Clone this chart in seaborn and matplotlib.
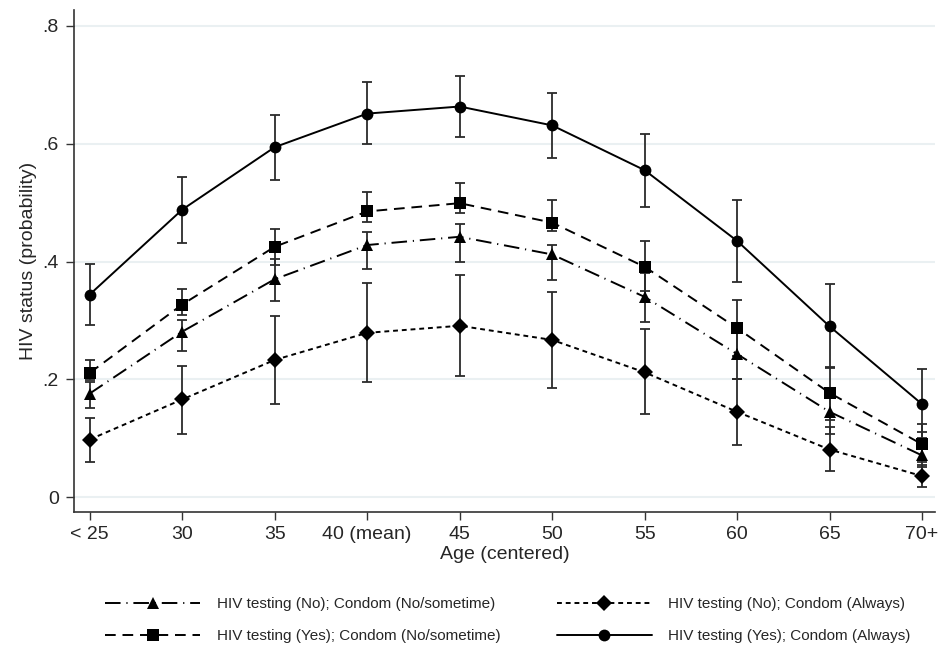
import numpy as np
import pandas as pd
import matplotlib
matplotlib.use("Agg")
import matplotlib.pyplot as plt
import seaborn as sns

# age groups on the x axis
ages = ["< 25", "30", "35", "40 (mean)", "45", "50", "55", "60", "65", "70+"]

# predicted probabilities and 95% CI
tri_est = [0.176, 0.281, 0.370, 0.428, 0.442, 0.412, 0.340, 0.243, 0.145, 0.071]
tri_lo  = [0.151, 0.248, 0.333, 0.387, 0.400, 0.368, 0.298, 0.200, 0.108, 0.051]
tri_hi  = [0.196, 0.300, 0.405, 0.450, 0.463, 0.428, 0.380, 0.286, 0.185, 0.111]

sq_est = [0.211, 0.327, 0.425, 0.485, 0.499, 0.466, 0.391, 0.287, 0.177, 0.090]
sq_lo  = [0.199, 0.310, 0.394, 0.467, 0.482, 0.452, 0.350, 0.240, 0.131, 0.060]
sq_hi  = [0.233, 0.353, 0.456, 0.518, 0.534, 0.505, 0.435, 0.334, 0.221, 0.125]

dia_est = [0.098, 0.166, 0.233, 0.279, 0.291, 0.267, 0.212, 0.145, 0.081, 0.036]
dia_lo  = [0.060, 0.108, 0.158, 0.195, 0.205, 0.185, 0.141, 0.088, 0.045, 0.018]
dia_hi  = [0.135, 0.223, 0.307, 0.363, 0.377, 0.349, 0.285, 0.200, 0.119, 0.055]

cir_est = [0.344, 0.488, 0.594, 0.651, 0.663, 0.631, 0.555, 0.435, 0.290, 0.158]
cir_lo  = [0.293, 0.432, 0.539, 0.599, 0.611, 0.576, 0.493, 0.366, 0.220, 0.100]
cir_hi  = [0.395, 0.543, 0.649, 0.704, 0.715, 0.686, 0.616, 0.505, 0.362, 0.217]

groups = ["HIV testing (No); Condom (No/sometime)",
          "HIV testing (Yes); Condom (No/sometime)",
          "HIV testing (No); Condom (Always)",
          "HIV testing (Yes); Condom (Always)"]
ests = [tri_est, sq_est, dia_est, cir_est]
los = [tri_lo, sq_lo, dia_lo, cir_lo]
his = [tri_hi, sq_hi, dia_hi, cir_hi]

rows = []
for g, e, l, h in zip(groups, ests, los, his):
    for i in range(len(ages)):
        rows.append({'group': g, 'pos': i, 'est': e[i], 'lo': l[i], 'hi': h[i]})
df = pd.DataFrame(rows)

sns.set_style("white")
plt.rcParams['font.family'] = ['Liberation Sans', 'DejaVu Sans']

fig = plt.figure(figsize=(9.4, 6.53), dpi=100)
ax = fig.add_axes([0.0787, 0.2159, 0.916, 0.769])

# confidence intervals first, so the lines sit on top
for g in groups:
    d = df[df.group == g]
    ax.errorbar(d.pos, d.est, yerr=[d.est - d.lo, d.hi - d.est], fmt='none',
                ecolor='#2b2b2b', elinewidth=1.3, capsize=3.5, capthick=1.3, zorder=2)

markers = {groups[0]: '^', groups[1]: 's', groups[2]: 'D', groups[3]: 'o'}
dashes = {groups[0]: (8, 3, 0.6, 3), groups[1]: (5.5, 3.5), groups[2]: (2.5, 2), groups[3]: ''}

sns.lineplot(data=df, x='pos', y='est', style='group', style_order=groups,
             markers=markers, dashes=dashes, color='black', linewidth=1.4,
             markersize=8.5, markeredgewidth=0, ax=ax, zorder=3)

ax.set_xlim(-0.17, 9.14)
ax.set_ylim(-0.025, 0.827)
ax.set_xticks(range(len(ages)))
ax.set_xticklabels(ages)
ax.set_yticks([0, 0.2, 0.4, 0.6, 0.8])
ax.set_yticklabels(['0', '.2', '.4', '.6', '.8'])
ax.tick_params(axis='both', labelsize=14, length=6, width=1, color='#333333',
               direction='out', left=True, bottom=True)
ax.tick_params(axis='x', pad=4)
ax.tick_params(axis='y', pad=5)
ax.grid(axis='y', color='#eaf0f2', linewidth=1.5)
ax.set_axisbelow(True)
for s in ['top', 'right']:
    ax.spines[s].set_visible(False)
for s in ['left', 'bottom']:
    ax.spines[s].set_color('#333333')
    ax.spines[s].set_linewidth(1.2)

ax.set_xlabel('Age (centered)', fontsize=14, labelpad=2)
ax.set_ylabel('HIV status (probability)', fontsize=14, labelpad=4)

h, l = ax.get_legend_handles_labels()
ax.legend(h, l, ncol=2, loc='upper center', bbox_to_anchor=(0.504, -0.142),
          frameon=False, fontsize=11, handlelength=6.2, columnspacing=3.7,
          handletextpad=1.1, labelspacing=1.2)

fig.savefig('out.png', dpi=100)
